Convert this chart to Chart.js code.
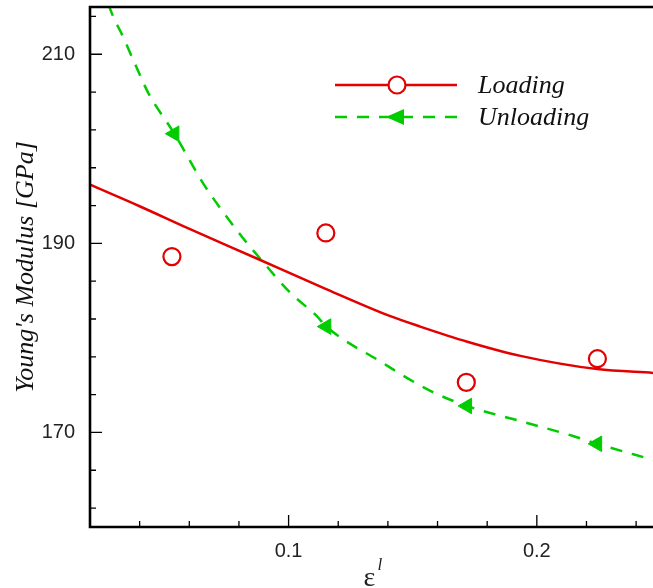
<!DOCTYPE html>
<html>
<head>
<meta charset="utf-8">
<script src="https://cdn.jsdelivr.net/npm/chart.js@4.4.1/dist/chart.umd.min.js"></script>
<style>
  body { margin: 0; background: #fff; }
  canvas { display: block; }
</style>
</head>
<body>
<canvas id="chartModulus" width="653" height="588"></canvas>
<script>
// measured points
const loadingStrain = [0.053, 0.115, 0.1716, 0.2244];
const loadingModulus = [188.6, 191.1, 175.3, 177.8];
const unloadingStrain = [0.054, 0.1152, 0.1719, 0.2243];
const unloadingModulus = [201.6, 181.2, 172.8, 168.8];

// fitted curves
const loadingFitStrain = [0.02, 0.0402, 0.0603, 0.0872, 0.114, 0.141, 0.153, 0.172, 0.1934, 0.2243, 0.2468];
const loadingFitModulus = [196.2, 193.9, 191.5, 188.4, 185.3, 182.3, 181.2, 179.6, 178.1, 176.7, 176.3];
const unloadingFitStrain = [0.025, 0.0281, 0.0334, 0.0381, 0.0435, 0.054, 0.0657, 0.0731, 0.0812, 0.0885, 0.1006, 0.1114, 0.1152, 0.137, 0.1571, 0.1719, 0.1934, 0.2149, 0.2243, 0.2468];
const unloadingFitModulus = [217.5, 214.8, 211.8, 209.0, 205.9, 201.6, 196.3, 193.5, 190.7, 188.4, 184.8, 182.3, 181.2, 177.5, 174.4, 172.8, 171.2, 169.6, 168.8, 167.1];

// axes
const xTicks = [0.04, 0.06, 0.08, 0.1, 0.12, 0.14, 0.16, 0.18, 0.2, 0.22, 0.24];
const xMajor = [0.1, 0.2];
const yTicks = [162, 166, 170, 174, 178, 182, 186, 190, 194, 198, 202, 206, 210, 214];
const yMajor = [170, 190, 210];

const RED = 'rgb(226,0,0)';
const GREEN = 'rgb(0,204,0)';

function toPoints(xs, ys) {
    return xs.map((x, i) => ({x: x, y: ys[i]}));
}

function isMajor(list, v) {
    return list.some(m => Math.abs(m - v) < 1e-9);
}

// frame, inward ticks, x title, legend
const decorations = {
    id: 'decorations',
    afterDraw(chart) {
        const ctx = chart.ctx;
        const area = chart.chartArea;
        const xs = chart.scales.x;
        const ys = chart.scales.y;
        ctx.save();
        ctx.strokeStyle = '#000';
        ctx.lineWidth = 1.3;
        ctx.beginPath();
        yTicks.forEach(v => {
            const py = ys.getPixelForValue(v);
            const len = isMajor(yMajor, v) ? 12 : 6;
            ctx.moveTo(area.left, py);
            ctx.lineTo(area.left + len, py);
        });
        xTicks.forEach(v => {
            const px = xs.getPixelForValue(v);
            const len = isMajor(xMajor, v) ? 12 : 6;
            ctx.moveTo(px, area.bottom);
            ctx.lineTo(px, area.bottom - len);
        });
        ctx.stroke();
        ctx.lineWidth = 2.6;
        ctx.beginPath();
        ctx.moveTo(area.right + 2, area.top);
        ctx.lineTo(area.left, area.top);
        ctx.lineTo(area.left, area.bottom);
        ctx.lineTo(area.right + 2, area.bottom);
        ctx.stroke();

        // x axis title: epsilon with superscript l
        const cx = (area.left + area.right) / 2;
        ctx.fillStyle = '#222';
        ctx.textBaseline = 'alphabetic';
        ctx.textAlign = 'left';
        ctx.font = '28px "Liberation Serif"';
        const ew = ctx.measureText('ε').width;
        ctx.fillText('ε', cx - ew / 2 - 2, 586);
        ctx.font = 'italic 17px "Liberation Serif"';
        ctx.fillText('l', cx + ew / 2, 570);

        // legend
        const lx0 = area.left + 245;
        const lx1 = area.left + 367;
        const lmid = area.left + 307;
        const tx = area.left + 388;
        const r1 = area.top + 78;
        const r2 = area.top + 110;
        ctx.lineWidth = 2.5;
        ctx.strokeStyle = RED;
        ctx.setLineDash([]);
        ctx.beginPath();
        ctx.moveTo(lx0, r1);
        ctx.lineTo(lx1, r1);
        ctx.stroke();
        ctx.fillStyle = '#fff';
        ctx.lineWidth = 2.2;
        ctx.beginPath();
        ctx.arc(lmid, r1, 8.5, 0, Math.PI * 2);
        ctx.fill();
        ctx.stroke();

        ctx.strokeStyle = GREEN;
        ctx.lineWidth = 2.5;
        ctx.setLineDash([12, 10]);
        ctx.beginPath();
        ctx.moveTo(lx0, r2);
        ctx.lineTo(lx1, r2);
        ctx.stroke();
        ctx.setLineDash([]);
        ctx.fillStyle = GREEN;
        ctx.beginPath();
        ctx.moveTo(lmid - 11, r2);
        ctx.lineTo(lmid + 7, r2 - 8);
        ctx.lineTo(lmid + 7, r2 + 8);
        ctx.closePath();
        ctx.fill();

        ctx.fillStyle = '#111';
        ctx.font = 'italic 26px "Liberation Serif"';
        ctx.textBaseline = 'middle';
        ctx.fillText('Loading', tx, r1 + 1);
        ctx.fillText('Unloading', tx, r2 + 1);
        ctx.restore();
    }
};

function initModulusChart() {
    const canvas = document.getElementById('chartModulus');
    new Chart(canvas, {
        type: 'scatter',
        data: {
            datasets: [
                {
                    label: 'Loading fit',
                    data: toPoints(loadingFitStrain, loadingFitModulus),
                    showLine: true,
                    borderColor: RED,
                    borderWidth: 2.5,
                    pointRadius: 0,
                    cubicInterpolationMode: 'monotone'
                },
                {
                    label: 'Unloading fit',
                    data: toPoints(unloadingFitStrain, unloadingFitModulus),
                    showLine: true,
                    borderColor: GREEN,
                    borderWidth: 2.5,
                    borderDash: [12, 10],
                    pointRadius: 0,
                    cubicInterpolationMode: 'monotone'
                },
                {
                    label: 'Loading',
                    data: toPoints(loadingStrain, loadingModulus),
                    pointStyle: 'circle',
                    pointRadius: 8.5,
                    pointBorderWidth: 2.2,
                    pointBorderColor: RED,
                    pointBackgroundColor: 'rgba(255,255,255,0)'
                },
                {
                    label: 'Unloading',
                    data: toPoints(unloadingStrain, unloadingModulus),
                    pointStyle: 'triangle',
                    rotation: -90,
                    pointRadius: 9,
                    pointBorderWidth: 1,
                    pointBorderColor: GREEN,
                    pointBackgroundColor: GREEN
                }
            ]
        },
        options: {
            responsive: false,
            animation: false,
            devicePixelRatio: 1,
            layout: { autoPadding: false, padding: { top: 7, right: 0, left: 0, bottom: 0 } },
            plugins: {
                legend: { display: false },
                tooltip: { enabled: false }
            },
            scales: {
                x: {
                    type: 'linear',
                    min: 0.02,
                    max: 0.2468,
                    grid: { display: false },
                    border: { display: false },
                    afterBuildTicks: scale => { scale.ticks = xTicks.map(v => ({value: v})); },
                    afterFit: scale => {
                        scale.height = 61;
                        scale.paddingLeft = 0;
                        scale.paddingRight = 0;
                    },
                    ticks: {
                        autoSkip: false,
                        maxRotation: 0,
                        padding: 4,
                        color: '#222',
                        font: { family: 'Liberation Sans', size: 20 },
                        callback: v => isMajor(xMajor, v) ? v.toFixed(1) : ''
                    }
                },
                y: {
                    type: 'linear',
                    min: 160,
                    max: 215,
                    grid: { display: false },
                    border: { display: false },
                    afterBuildTicks: scale => { scale.ticks = yTicks.map(v => ({value: v})); },
                    afterFit: scale => {
                        scale.width = 90;
                        scale.paddingTop = 0;
                        scale.paddingBottom = 0;
                    },
                    title: {
                        display: true,
                        text: "Young's Modulus [GPa]",
                        color: '#111',
                        padding: { top: 11, bottom: 0 },
                        font: { family: 'Liberation Serif', size: 26, style: 'italic' }
                    },
                    ticks: {
                        autoSkip: false,
                        padding: 7,
                        color: '#222',
                        font: { family: 'Liberation Sans', size: 20 },
                        callback: v => isMajor(yMajor, v) ? String(v) : ''
                    }
                }
            }
        },
        plugins: [decorations]
    });
}

window.addEventListener('load', initModulusChart);
</script>
</body>
</html>
